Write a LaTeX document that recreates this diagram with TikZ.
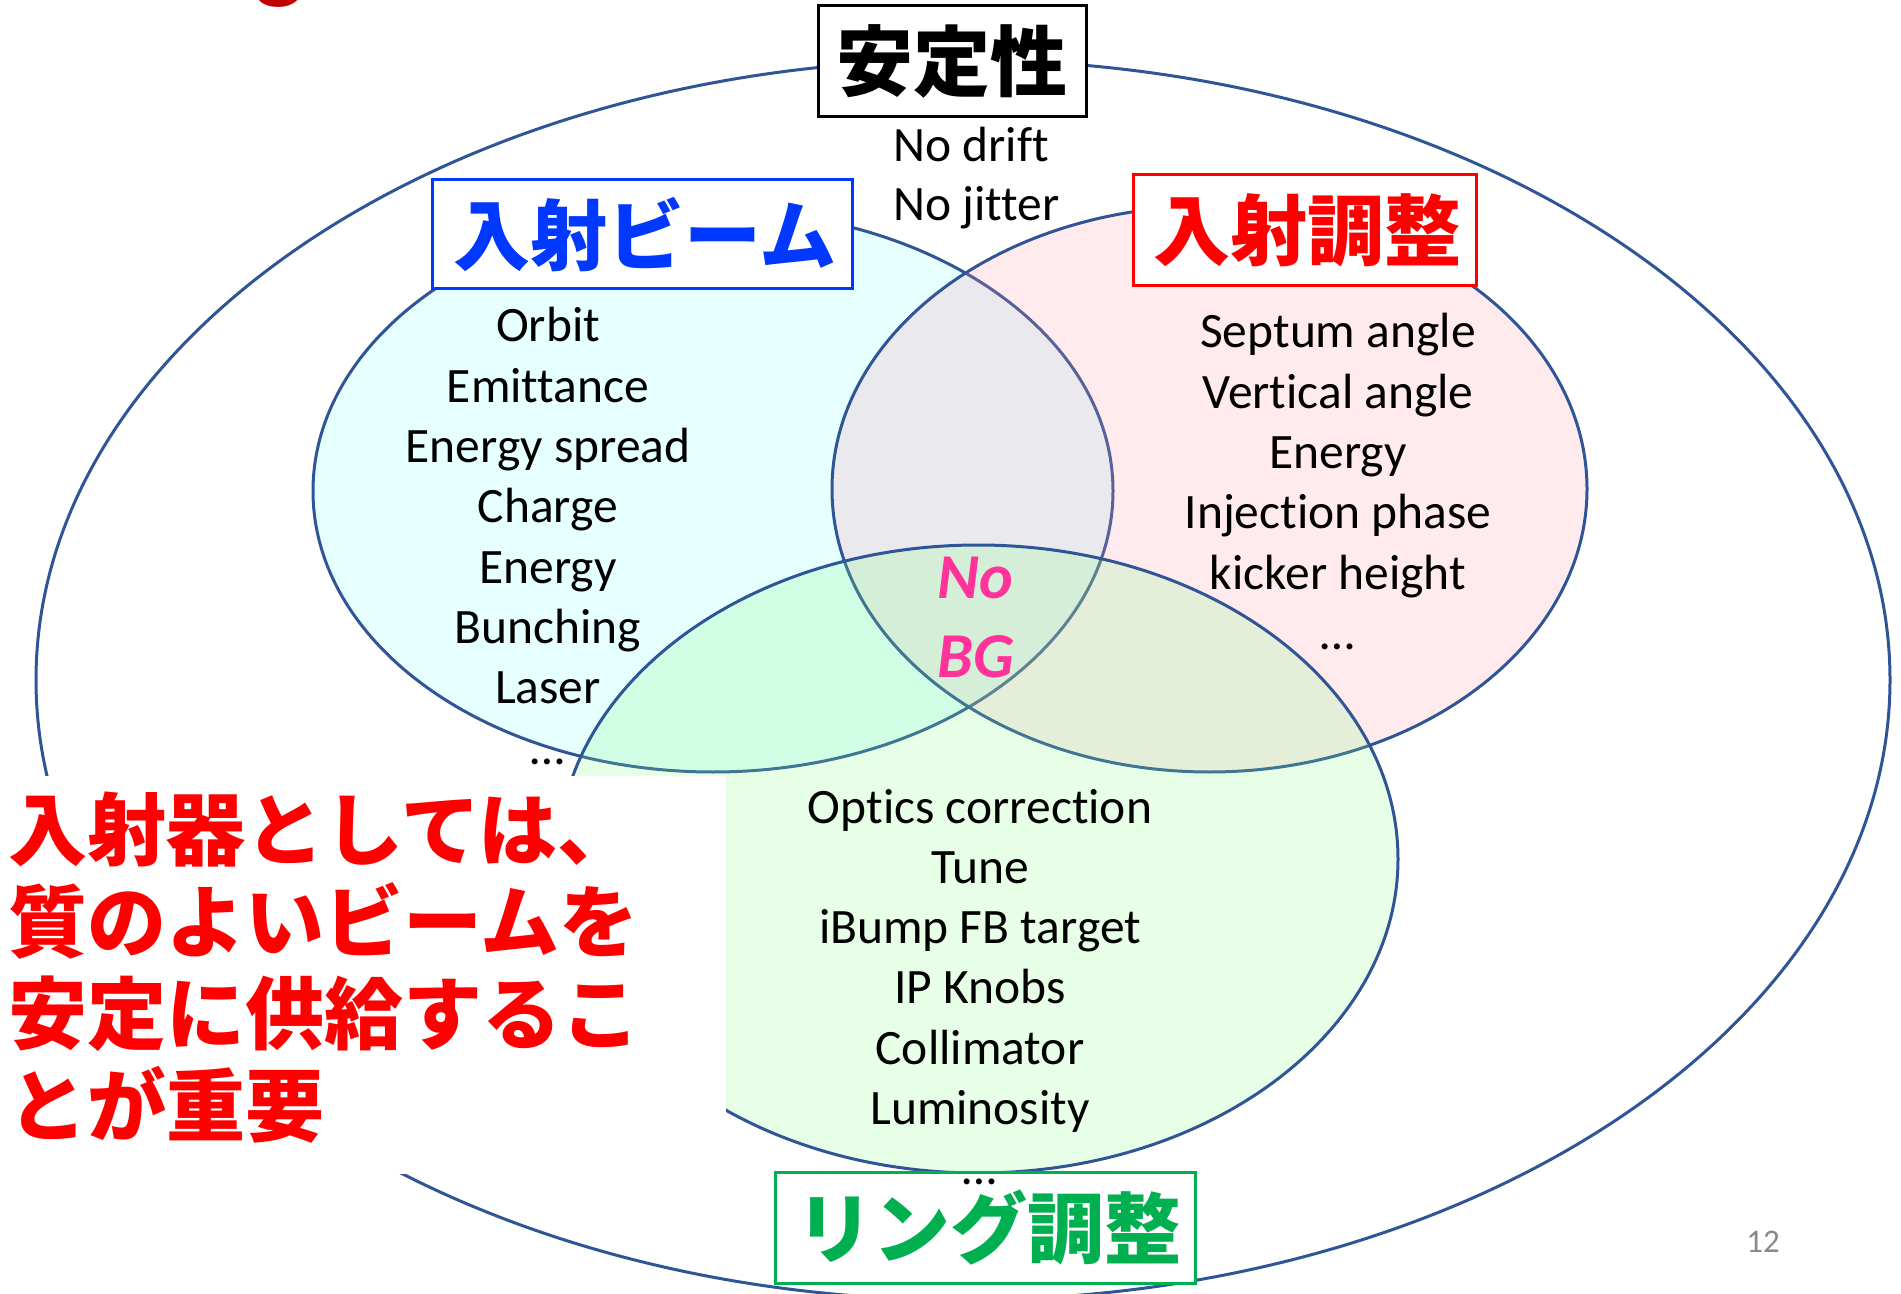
\documentclass[tikz,border=0pt]{standalone}
\usepackage{fontspec}
\setmainfont{Carlito}[Ligatures=CommonOff]
\newfontfamily\cjk{Noto Sans CJK JP}
\definecolor{edge}{HTML}{2F5597}
\definecolor{blueF}{RGB}{128,255,255}
\definecolor{pinkF}{RGB}{255,153,170}
\definecolor{greenF}{RGB}{128,255,128}
\definecolor{tblue}{HTML}{0038FF}
\definecolor{tred}{HTML}{FF0000}
\definecolor{tgreen}{HTML}{00B050}
\definecolor{tmag}{HTML}{FF3399}
\definecolor{pgnum}{HTML}{898989}
\definecolor{darkred}{HTML}{C00000}
\tikzset{
  vennline/.style={draw=edge, line width=1.5pt},
  vennfill/.style={vennline, fill opacity=0.2, draw opacity=1},
  titlebox/.style={draw, line width=1.5pt, fill=white, inner sep=0pt,
    font=\cjk\bfseries\fontsize{38.5}{40}\selectfont},
  listtext/.style={anchor=base, inner sep=0pt, font=\fontsize{24.75}{30}\selectfont},
  redtext/.style={anchor=base west, inner sep=0pt, text=tred,
    font=\cjk\bfseries\fontsize{39.5}{46}\selectfont},
  nobg/.style={anchor=base, inner sep=0pt, text=tmag,
    font=\bfseries\itshape\fontsize{32}{38}\selectfont}
}
\begin{document}
\begin{tikzpicture}[x=0.5pt,y=-0.5pt]
\useasboundingbox (0,0) rectangle (1901,1294);
% partial title glyph at top
\node[anchor=base, inner sep=0pt, text=darkred, font=\fontsize{55}{60}\selectfont] (ttl) at (279,-11) {g};
% outer ellipse
\draw[vennline] (963,680) ellipse [x radius=463.5pt, y radius=310pt];
% three sets
\draw[vennfill, fill=blueF] (713,491) ellipse [x radius=200pt, y radius=140.5pt];
\draw[vennfill, fill=pinkF] (1209.5,489) ellipse [x radius=188.75pt, y radius=141.5pt];
\draw[vennfill, fill=greenF] (978,859) ellipse [x radius=210pt, y radius=157pt];
% white cover box
\fill[white] (0,776) rectangle (726,1174);
% title boxes
\node[titlebox, draw=black, text=black, minimum width=134pt, minimum height=55.5pt] (stab) at (952,61.5) {安定性};
\node[titlebox, draw=tblue, text=tblue, minimum width=210pt, minimum height=54.5pt] (beam) at (642,234.5) {\hspace{3pt}入射ビーム};
\node[titlebox, draw=tred, text=tred, minimum width=171.5pt, minimum height=55.5pt] (inj) at (1304.5,230.5) {\hspace{3pt}入射調整};
\node[titlebox, draw=tgreen, text=tgreen, minimum width=210pt, minimum height=55.5pt] (ring) at (985,1227.5) {\hspace{4pt}リング調整};
% stability items
\node[listtext, anchor=base west] (nd) at (893,162) {No drift};
\node[listtext, anchor=base west] (nj) at (893,221) {No jitter};
% beam list
\foreach \t [count=\i] in {Orbit,Emittance,Energy spread,Charge,Energy,Bunching,Laser,…}
  \node[listtext] (bl\i) at (548,{342+60.3*(\i-1)}) {\t};
% injection tuning list
\foreach \t [count=\i] in {Septum angle,Vertical angle,Energy,Injection phase,kicker height,…}
  \node[listtext] (il\i) at (1338,{348+60.3*(\i-1)}) {\t};
% ring tuning list
\foreach \t [count=\i] in {Optics correction,Tune,iBump FB target,IP Knobs,Collimator,Luminosity,…}
  \node[listtext] (rl\i) at (980,{823+60.3*(\i-1)}) {\t};
% centre
\node[nobg] (no) at (975,598) {No};
\node[nobg] (bg) at (976,677) {BG};
% red message
\node[redtext] (m1) at (8,859) {入射器としては、};
\node[redtext] (m2) at (8,951) {質のよいビームを};
\node[redtext] (m3) at (8,1043) {安定に供給するこ};
\node[redtext] (m4) at (8,1135) {とが重要};
% page number
\node[anchor=base, inner sep=0pt, text=pgnum, font=\fontsize{16.5}{20}\selectfont] (pg) at (1763,1252) {12};
\end{tikzpicture}
\end{document}
